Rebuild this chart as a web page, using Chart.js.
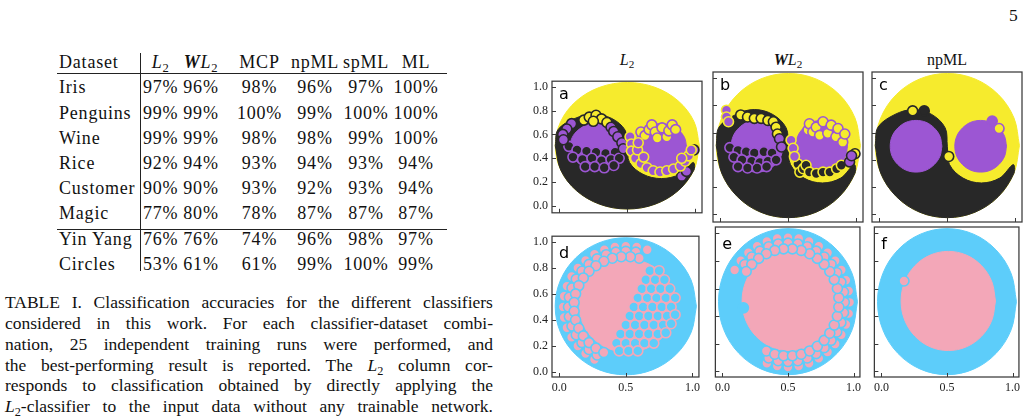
<!DOCTYPE html>
<html>
<head>
<meta charset="utf-8">
<script src="https://cdn.jsdelivr.net/npm/chart.js@4/dist/chart.umd.min.js"></script>
<style>
  body { margin:0; width:1029px; height:417px; overflow:hidden; background:#fff; position:relative;
         font-family:"Liberation Serif", serif; color:#111; }
  .t { position:absolute; white-space:nowrap; }
  .cap { position:absolute; left:5px; width:488px; display:flex; justify-content:space-between;
         font-size:17.5px; line-height:21px; white-space:nowrap; }
  sub { font-size:0.7em; vertical-align:-0.3em; line-height:0; }
  canvas { position:absolute; }
  .rule { position:absolute; background:#222; }
</style>
</head>
<body>
<script>
// ---- table data ----
var datasetNames = ['Iris', 'Penguins', 'Wine', 'Rice', 'Customer', 'Magic', 'Yin Yang', 'Circles'];
var classifierNames = ['<i>L</i><sub>2</sub>', '<b><i>W</i></b><i>L</i><sub>2</sub>', 'MCP', 'npML', 'spML', 'ML'];
var accL2   = [97, 99, 99, 92, 90, 77, 76, 53];
var accWL2  = [96, 99, 99, 94, 90, 80, 76, 61];
var accMCP  = [98, 100, 98, 93, 93, 78, 74, 61];
var accNpML = [96, 99, 98, 94, 92, 87, 96, 99];
var accSpML = [97, 100, 99, 93, 93, 87, 98, 100];
var accML   = [100, 100, 100, 94, 94, 87, 97, 99];

// ---- scatter panels: region outlines (x, y) ----
var outerDisk = [[1.03,0.505],[0.99,0.708],[0.875,0.88],[0.703,0.995],[0.5,1.035],[0.297,0.995],[0.125,0.88],[0.01,0.708],
  [-0.03,0.505],[0.01,0.302],[0.125,0.13],[0.297,0.015],[0.5,-0.025],[0.703,0.015],[0.875,0.13],[0.99,0.302],[1.03,0.505]];
var yinRegion = [[-0.03,0.505],[-0.01,0.64],[0.115,0.734],[0.25,0.77],[0.385,0.734],[0.484,0.635],[0.5,0.5],[0.516,0.365],
  [0.615,0.266],[0.75,0.23],[0.885,0.266],[0.984,0.365],[0.99,0.302],[0.875,0.13],[0.703,0.015],[0.5,-0.025],[0.297,0.015],
  [0.125,0.13],[0.01,0.302],[-0.03,0.505]];
var leftDot = [[0.46,0.5],[0.446,0.573],[0.404,0.634],[0.343,0.676],[0.27,0.69],[0.197,0.676],[0.136,0.634],[0.094,0.573],
  [0.08,0.5],[0.094,0.427],[0.136,0.366],[0.197,0.324],[0.27,0.31],[0.343,0.324],[0.404,0.366],[0.446,0.427],[0.46,0.5]];
var rightDot = [[0.935,0.5],[0.921,0.573],[0.879,0.634],[0.818,0.676],[0.745,0.69],[0.672,0.676],[0.611,0.634],[0.569,0.573],
  [0.555,0.5],[0.569,0.427],[0.611,0.366],[0.672,0.324],[0.745,0.31],[0.818,0.324],[0.879,0.366],[0.921,0.427],[0.935,0.5]];
var innerDisk = [[0.87,0.51],[0.843,0.648],[0.765,0.765],[0.648,0.843],[0.51,0.87],[0.372,0.843],[0.255,0.765],[0.177,0.648],
  [0.15,0.51],[0.177,0.372],[0.255,0.255],[0.372,0.177],[0.51,0.15],[0.648,0.177],[0.765,0.255],[0.843,0.372],[0.87,0.51]];

// ---- misclassified markers ----
var aPurOnBlk = [[0.07,0.50],[0.13,0.47],[0.20,0.46],[0.27,0.45],[0.34,0.44],[0.41,0.45],[0.10,0.41],[0.17,0.39],[0.24,0.40],
  [0.31,0.38],[0.38,0.39],[0.44,0.40],[0.19,0.33],[0.26,0.33],[0.33,0.32],[0.40,0.34]];
var aBlkOnYel = [[0.18,0.72],[0.22,0.745],[0.27,0.76],[0.31,0.73],[0.25,0.71],[0.35,0.70]];
var aBlkOnPur = [[0.09,0.69],[0.055,0.645],[0.025,0.60],[0.03,0.555],[0.38,0.66],[0.40,0.625],[0.43,0.58],[0.46,0.53],
  [0.47,0.48],[0.90,0.25],[0.935,0.29],[0.99,0.47]];
var aYelOnPur = [[0.52,0.58],[0.53,0.52],[0.53,0.46],[0.56,0.40],[0.60,0.355],[0.645,0.32],[0.69,0.295],[0.74,0.285],
  [0.79,0.295],[0.84,0.31],[0.89,0.335],[0.925,0.375],[0.95,0.42],[0.97,0.47],[0.575,0.47],[0.58,0.53],[0.62,0.41],[0.90,0.40]];
var aPurOnYel = [[0.60,0.62],[0.63,0.59],[0.66,0.64],[0.68,0.68],[0.705,0.62],[0.72,0.57],[0.755,0.655],[0.79,0.58],
  [0.805,0.63],[0.83,0.68],[0.855,0.64]];

var bPurOnBlk = [[0.07,0.49],[0.13,0.47],[0.19,0.46],[0.25,0.45],[0.32,0.46],[0.38,0.45],[0.10,0.42],[0.16,0.40],[0.23,0.39],
  [0.29,0.38],[0.35,0.39],[0.41,0.40],[0.13,0.35],[0.20,0.34],[0.27,0.34],[0.34,0.35]];
var bBlkOnYel = [[0.15,0.73],[0.20,0.715],[0.25,0.705],[0.30,0.705],[0.35,0.69],[0.39,0.68],[0.41,0.64],[0.42,0.59],[0.99,0.445]];
var bYelOnPur = [[0.045,0.765],[0.045,0.715],[0.06,0.68],[0.52,0.545],[0.535,0.485],[0.545,0.425]];
var bBlkOnPur = [[0.435,0.555],[0.45,0.495],[0.95,0.385],[0.965,0.43]];
var bPurOnYel = [[0.645,0.62],[0.655,0.665],[0.68,0.605],[0.705,0.64],[0.73,0.58],[0.755,0.68],[0.79,0.595],[0.815,0.655],
  [0.85,0.57],[0.865,0.63],[0.90,0.53],[0.915,0.59]];
var bYelOnBlk = [[0.57,0.37],[0.585,0.31],[0.61,0.335],[0.63,0.36],[0.655,0.31],[0.705,0.30],[0.755,0.31],[0.805,0.31],
  [0.855,0.335],[0.89,0.36]];

var cBlkOnYel = [[0.245,0.76],[0.51,0.425]];
var cBlk = [[0.33,0.76]];
var cPur = [[0.83,0.685]];
var cPurOnYel = [[0.88,0.63]];

var dRing = [[0.661,0.942],[0.582,0.963],[0.5,0.97],[0.418,0.963],[0.339,0.942],[0.265,0.907],[0.198,0.86],[0.14,0.802],
  [0.093,0.735],[0.058,0.661],[0.037,0.582],[0.03,0.5],[0.037,0.418],[0.058,0.339],[0.093,0.265],[0.14,0.198],[0.198,0.14],
  [0.265,0.093],
  [0.575,0.924],[0.5,0.93],[0.425,0.924],[0.353,0.904],[0.285,0.872],[0.224,0.829],[0.171,0.776],[0.128,0.715],[0.096,0.647],
  [0.076,0.575],[0.07,0.5],[0.076,0.425],[0.096,0.353],[0.128,0.285],[0.171,0.224],[0.224,0.171],[0.285,0.128],
  [0.601,0.877],[0.534,0.888],[0.466,0.888],[0.399,0.877],[0.335,0.853],[0.276,0.819],[0.224,0.776],
  [0.181,0.724],[0.147,0.665],[0.123,0.601],[0.112,0.534],[0.112,0.466],[0.123,0.399],[0.147,0.335],[0.181,0.276],
  [0.224,0.224],[0.276,0.181],[0.335,0.147]];
var dInner = [[0.68,0.78],[0.75,0.78],[0.65,0.71],[0.72,0.71],[0.79,0.71],[0.62,0.64],[0.69,0.64],[0.76,0.64],[0.83,0.64],
  [0.59,0.57],[0.66,0.57],[0.73,0.57],[0.80,0.57],[0.87,0.57],[0.56,0.50],[0.63,0.50],[0.70,0.50],[0.77,0.50],[0.84,0.50],
  [0.53,0.43],[0.60,0.43],[0.67,0.43],[0.74,0.43],[0.81,0.43],[0.87,0.44],[0.50,0.36],[0.57,0.36],[0.64,0.36],[0.71,0.36],
  [0.78,0.36],[0.84,0.37],[0.46,0.29],[0.53,0.29],[0.60,0.29],[0.67,0.29],[0.74,0.29],[0.80,0.30],[0.43,0.22],[0.50,0.22],
  [0.57,0.22],[0.64,0.22],[0.71,0.22],[0.45,0.16],[0.52,0.16],[0.59,0.16]];
var eRing = [[0.339,0.058],[0.418,0.037],[0.5,0.03],[0.582,0.037],[0.661,0.058],[0.735,0.093],[0.802,0.14],[0.86,0.198],
  [0.907,0.265],[0.942,0.339],[0.963,0.418],[0.97,0.5],[0.963,0.582],[0.942,0.661],[0.907,0.735],[0.86,0.802],[0.802,0.86],
  [0.735,0.907],[0.661,0.942],[0.582,0.963],[0.5,0.97],[0.418,0.963],[0.339,0.942],[0.265,0.907],[0.198,0.86],[0.14,0.802],
  [0.093,0.735],
  [0.353,0.096],[0.425,0.076],[0.5,0.07],[0.575,0.076],[0.647,0.096],[0.715,0.128],[0.776,0.171],[0.829,0.224],
  [0.872,0.285],[0.904,0.353],[0.924,0.425],[0.93,0.5],[0.924,0.575],[0.904,0.647],[0.872,0.715],[0.829,0.776],
  [0.776,0.829],[0.715,0.872],[0.647,0.904],[0.575,0.924],[0.5,0.93],[0.425,0.924],[0.353,0.904],[0.285,0.872],
  [0.224,0.829],[0.171,0.776],
  [0.335,0.147],[0.399,0.123],[0.466,0.112],[0.534,0.112],[0.601,0.123],[0.665,0.147],[0.724,0.181],
  [0.776,0.224],[0.819,0.276],[0.853,0.335],[0.877,0.399],[0.888,0.466],[0.888,0.534],[0.877,0.601],[0.853,0.665],
  [0.819,0.724],[0.776,0.776],[0.724,0.819],[0.665,0.853],[0.601,0.877],[0.534,0.888],[0.466,0.888],[0.399,0.877],
  [0.335,0.853],[0.276,0.819],[0.224,0.776],[0.181,0.724]];
var eBlue = [[0.16,0.46]];
var fRing = [[0.172,0.655]];

var yTickVals = [0, 0.2, 0.4, 0.6, 0.8, 1.0];
var xTickVals = [0, 0.5, 1.0];

var YEL = '#f6eb2d', BLK = '#282828', PUR = '#9c56d3', BLU = '#5dcdfa', PNK = '#f3a7b8';

// ---------- text helpers ----------
function placeText(html, x, baseline, size, align, extra) {
  var el = document.createElement('div');
  el.className = 't';
  var lh = Math.round(size * 1.3);
  el.style.fontSize = size + 'px';
  el.style.lineHeight = lh + 'px';
  el.style.top = (baseline - ((lh - 1.107 * size) / 2 + 0.891 * size)) + 'px';
  if (align == 'center') {
    el.style.left = (x - 60) + 'px';
    el.style.width = '120px';
    el.style.textAlign = 'center';
  } else {
    el.style.left = x + 'px';
  }
  if (extra) Object.assign(el.style, extra);
  el.innerHTML = html;
  document.body.appendChild(el);
  return el;
}
function rule(x, y, w, h) {
  var r = document.createElement('div');
  r.className = 'rule';
  r.style.left = x + 'px'; r.style.top = y + 'px';
  r.style.width = w + 'px'; r.style.height = h + 'px';
  document.body.appendChild(r);
}

// page number
placeText('5', 1009, 21, 17.5);

// table
var colCenters = [160.7, 201, 259.5, 315, 366, 416];
var rowBase = [94, 119.2, 144.4, 169.6, 194.8, 220, 245.2, 270.4];
var accCols = [accL2, accWL2, accMCP, accNpML, accSpML, accML];
var tsp = {letterSpacing: '0.8px'};
placeText('Dataset', 59, 68.3, 18, 'left', tsp);
classifierNames.forEach(function(c, j) { placeText(c, colCenters[j], 68.3, 18, 'center', tsp); });
datasetNames.forEach(function(n, i) {
  placeText(n, 59, rowBase[i], 18, 'left', tsp);
  accCols.forEach(function(col, j) { placeText(col[i] + '%', colCenters[j], rowBase[i], 18, 'center', tsp); });
});
rule(57, 72.5, 390, 1);
rule(57, 229.3, 390, 1);
rule(140, 53, 1, 218);

// caption
var capLines = [
  'TABLE I. Classification accuracies for the different classifiers',
  'considered in this work. For each classifier-dataset combi-',
  'nation, 25 independent training runs were performed, and',
  'the best-performing result is reported. The <i>L</i><sub>2</sub> column cor-',
  'responds to classification obtained by directly applying the',
  '<i>L</i><sub>2</sub>-classifier to the input data without any trainable network.'
];
var capBase = [308, 329, 350, 371, 391.8, 412.7];
capLines.forEach(function(line, i) {
  var d = document.createElement('div');
  d.className = 'cap';
  d.style.top = (capBase[i] - 16.4) + 'px';
  line.split(' ').forEach(function(w) {
    var s = document.createElement('span');
    s.innerHTML = w;
    d.appendChild(s);
  });
  document.body.appendChild(d);
});

// panel titles
placeText('<i>L</i><sub>2</sub>', 627, 65, 16, 'center');
placeText('<b><i>W</i></b><i>L</i><sub>2</sub>', 788, 65, 16, 'center');
placeText('npML', 947, 65, 16, 'center');

// ---------- charts ----------
Chart.defaults.font.family = "'Liberation Serif', serif";
Chart.defaults.font.size = 12;
Chart.defaults.color = '#222';

function toXY(pts) { return pts.map(function(p) { return {x: p[0], y: p[1]}; }); }
function poly(pts, color) {
  return {data: toXY(pts), showLine: true, fill: 'shape', backgroundColor: color, borderColor: color,
          borderWidth: 1, pointRadius: 0, pointHoverRadius: 0, tension: 0.35};
}
function marks(pts, fillC, edgeC) {
  return {data: toXY(pts), showLine: false, pointRadius: 5, pointHoverRadius: 5,
          pointBackgroundColor: fillC, pointBorderColor: edgeC, pointBorderWidth: 1.6,
          backgroundColor: fillC, borderColor: edgeC};
}

// frame, inward tick marks and panel letter
var framePlugin = {
  id: 'frame',
  afterDatasetsDraw: function(chart, args, opts) {
    var ctx = chart.ctx, a = chart.chartArea, sx = chart.scales.x, sy = chart.scales.y;
    ctx.save();
    ctx.strokeStyle = '#3a3a3a';
    ctx.lineWidth = 1.25;
    ctx.strokeRect(a.left, a.top, a.right - a.left, a.bottom - a.top);
    ctx.lineWidth = 1;
    ctx.beginPath();
    sy.ticks.forEach(function(t) {
      var py = Math.round(sy.getPixelForValue(t.value)) + 0.5;
      ctx.moveTo(a.left, py); ctx.lineTo(a.left + 4, py);
    });
    sx.ticks.forEach(function(t) {
      var px = Math.round(sx.getPixelForValue(t.value)) + 0.5;
      ctx.moveTo(px, a.bottom); ctx.lineTo(px, a.bottom - 4);
    });
    ctx.stroke();
    ctx.fillStyle = '#000';
    ctx.font = '16px "DejaVu Sans"';
    ctx.textBaseline = 'alphabetic';
    ctx.fillText(opts.letter, a.left + 7, a.top + opts.letterDy);
    ctx.restore();
  }
};

var panels = [
  {letter: 'a', left: 552, top: 72,  yl: [-0.057, 1.046], yLab: true,  xLab: false, dy: 17.5,
   layers: [poly(outerDisk, YEL), poly(yinRegion, BLK), poly(leftDot, PUR), poly(rightDot, PUR),
            marks(aPurOnYel, YEL, PUR), marks(aBlkOnYel, YEL, BLK), marks(aPurOnBlk, BLK, PUR),
            marks(aBlkOnPur, PUR, BLK), marks(aYelOnPur, PUR, YEL)]},
  {letter: 'b', left: 713, top: 72,  yl: [-0.057, 1.046], yLab: false, xLab: false, dy: 17.5,
   layers: [poly(outerDisk, YEL), poly(yinRegion, BLK), poly(leftDot, PUR), poly(rightDot, PUR),
            marks(bPurOnYel, YEL, PUR), marks(bBlkOnYel, YEL, BLK), marks(bPurOnBlk, BLK, PUR),
            marks(bYelOnBlk, BLK, YEL), marks(bBlkOnPur, PUR, BLK), marks(bYelOnPur, PUR, YEL)]},
  {letter: 'c', left: 872, top: 72,  yl: [-0.057, 1.046], yLab: false, xLab: false, dy: 17.5,
   layers: [poly(outerDisk, YEL), poly(yinRegion, BLK), poly(leftDot, PUR), poly(rightDot, PUR),
            marks(cBlkOnYel, YEL, BLK), marks(cBlk, BLK, BLK), marks(cPur, PUR, PUR), marks(cPurOnYel, YEL, PUR)]},
  {letter: 'd', left: 552, top: 227, yl: [-0.042, 1.047], yLab: true,  xLab: true, dy: 22,
   layers: [poly(outerDisk, BLU), poly(innerDisk, PNK), marks(dRing, PNK, BLU), marks(dInner, BLU, PNK)]},
  {letter: 'e', left: 713, top: 227, yl: [-0.042, 1.047], yLab: false, xLab: true, dy: 22,
   layers: [poly(outerDisk, BLU), poly(innerDisk, PNK), marks(eBlue, BLU, BLU), marks(eRing, PNK, BLU)]},
  {letter: 'f', left: 872, top: 227, yl: [-0.042, 1.047], yLab: false, xLab: true, dy: 22,
   layers: [poly(outerDisk, BLU), poly(innerDisk, PNK), marks(fRing, PNK, BLU)]}
];

panels.forEach(function(p) {
  var padL = p.yLab ? 40 : 0, padB = p.xLab ? 20 : 0;
  var cv = document.createElement('canvas');
  cv.width = 150 + padL + 4; cv.height = 150 + padB + 4;
  cv.style.width = cv.width + 'px'; cv.style.height = cv.height + 'px';
  cv.style.left = (p.left - padL - 2) + 'px';
  cv.style.top = (p.top - 2) + 'px';
  document.body.appendChild(cv);

  // bottom layer first: lower order is drawn on top
  var n = p.layers.length;
  p.layers.forEach(function(ds, i) { ds.order = n - i; });

  new Chart(cv.getContext('2d'), {
    type: 'scatter',
    data: {datasets: p.layers},
    options: {
      responsive: false,
      animation: false,
      events: [],
      layout: {padding: {left: 2, right: 2, top: 2, bottom: 2}, autoPadding: false},
      plugins: {legend: {display: false}, tooltip: {enabled: false},
                frame: {letter: p.letter, letterDy: p.dy}},
      scales: {
        x: {type: 'linear', min: -0.054, max: 1.049,
            grid: {display: false, drawTicks: false}, border: {display: false},
            afterBuildTicks: function(s) { s.ticks = xTickVals.map(function(v) { return {value: v}; }); },
            ticks: {display: p.xLab, padding: 4, font: {size: 12}, color: '#222',
                    callback: function(v) { return Number(v).toFixed(1); }},
            afterFit: function(s) { s.height = padB; }},
        y: {type: 'linear', min: p.yl[0], max: p.yl[1],
            grid: {display: false, drawTicks: false}, border: {display: false},
            afterBuildTicks: function(s) { s.ticks = yTickVals.map(function(v) { return {value: v}; }); },
            ticks: {display: p.yLab, padding: 4, font: {size: 12}, color: '#222',
                    callback: function(v) { return Number(v).toFixed(1); }},
            afterFit: function(s) { s.width = padL; }}
      }
    },
    plugins: [framePlugin]
  });
});
</script>
</body>
</html>
